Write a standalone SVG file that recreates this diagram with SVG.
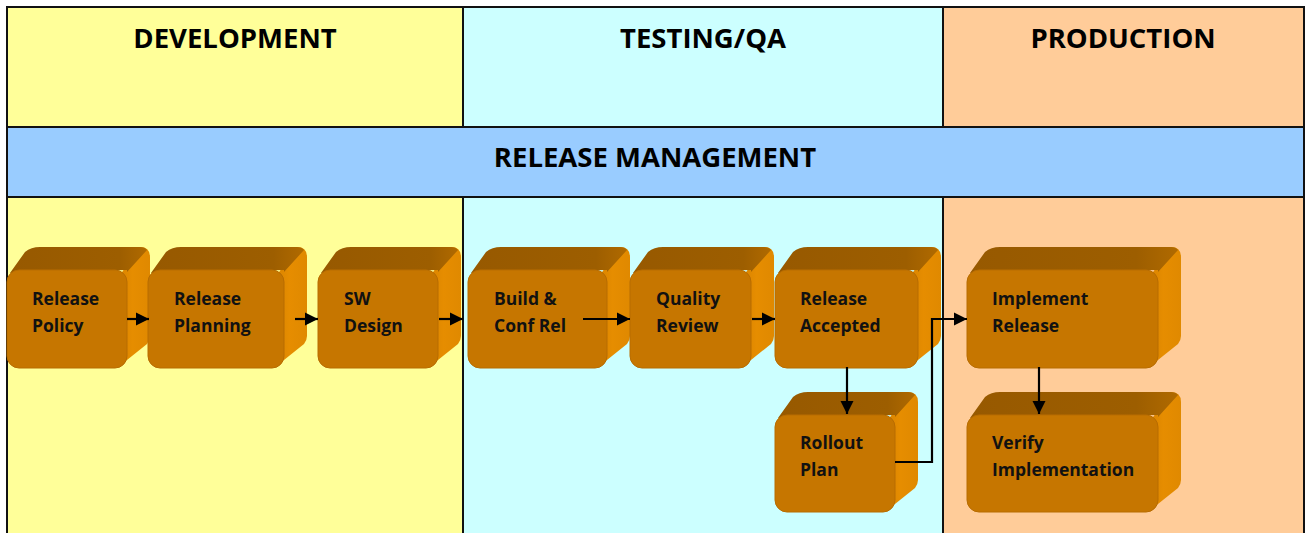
<svg xmlns="http://www.w3.org/2000/svg" width="1308" height="533" viewBox="0 0 1308 533">
  <style>
    .lane { stroke: #111; stroke-width: 2; }
    .hdr { font-family: "Open Sans", Lato, "Liberation Sans", sans-serif; font-weight: bold; font-size: 27.5px; fill: #000; text-anchor: middle; }
    .lbl { font-family: "Open Sans", Lato, "Liberation Sans", sans-serif; font-weight: bold; font-size: 17.5px; fill: #111; }
    .top { fill: url(#topFace); }
    .side { fill: url(#sideFace); }
    .front { fill: #C67600; stroke: #B86C00; stroke-width: 1; }
    .conn { fill: none; stroke: #000; stroke-width: 2.2; }
  </style>
  <defs>
    <linearGradient id="topFace" x1="0" y1="0" x2="1" y2="0">
      <stop offset="0" stop-color="#975900"/>
      <stop offset="0.8" stop-color="#9D5E00"/>
      <stop offset="1" stop-color="#B06A00"/>
    </linearGradient>
    <linearGradient id="sideFace" x1="0" y1="0" x2="1" y2="0">
      <stop offset="0" stop-color="#D68100"/>
      <stop offset="0.5" stop-color="#E68D00"/>
      <stop offset="1" stop-color="#E08900"/>
    </linearGradient>
    <marker id="arrow" viewBox="0 0 10 10" refX="10" refY="5" markerWidth="6" markerHeight="6" markerUnits="strokeWidth" orient="auto">
      <path d="M0,0 L10,5 L0,10 z" fill="#000"/>
    </marker>
  </defs>

  <!-- swimlane backgrounds -->
  <g id="lanes">
    <rect x="7" y="7" width="456" height="526" fill="#FFFF99"/>
    <rect x="463" y="7" width="480" height="526" fill="#CCFFFF"/>
    <rect x="943" y="7" width="361" height="526" fill="#FFCC99"/>
    <rect x="7" y="127" width="1297" height="70" fill="#99CCFF"/>
    <line class="lane" x1="6" y1="7" x2="1305" y2="7"/>
    <line class="lane" x1="7" y1="7" x2="7" y2="533"/>
    <line class="lane" x1="1304" y1="7" x2="1304" y2="533"/>
    <line class="lane" x1="7" y1="127" x2="1304" y2="127"/>
    <line class="lane" x1="7" y1="197" x2="1304" y2="197"/>
    <line class="lane" x1="463" y1="7" x2="463" y2="127"/>
    <line class="lane" x1="943" y1="7" x2="943" y2="127"/>
    <line class="lane" x1="463" y1="197" x2="463" y2="533"/>
    <line class="lane" x1="943" y1="197" x2="943" y2="533"/>
    <text class="hdr" x="235" y="48">DEVELOPMENT</text>
    <text class="hdr" x="703" y="48">TESTING/QA</text>
    <text class="hdr" x="1123" y="48">PRODUCTION</text>
    <text class="hdr" x="655" y="167">RELEASE MANAGEMENT</text>
  </g>

  <!-- process blocks: right face, top face, front face, label -->
  <g id="release-policy">
    <path class="side" d="M140,247 Q150,247 150,257 L150,336 Q150,340 147,344 L127,360 L115,360 L115,282 Z"/>
    <path class="top" d="M10,273 L25,252 Q31,247 40,247 L140,247 Q145,247 147,250 L127,272 L127,270 Z"/>
    <rect class="front" x="7" y="270" width="120" height="98" rx="12"/>
    <text class="lbl" x="32" y="305">Release</text>
    <text class="lbl" x="32" y="332">Policy</text>
  </g>

  <g id="release-planning">
    <path class="side" d="M297,247 Q307,247 307,257 L307,336 Q307,340 304,344 L284,360 L272,360 L272,282 Z"/>
    <path class="top" d="M151,273 L166,252 Q172,247 181,247 L297,247 Q302,247 304,250 L284,272 L284,270 Z"/>
    <rect class="front" x="148" y="270" width="136" height="98" rx="12"/>
    <text class="lbl" x="174" y="305">Release</text>
    <text class="lbl" x="174" y="332">Planning</text>
  </g>

  <g id="sw-design">
    <path class="side" d="M451,247 Q461,247 461,257 L461,336 Q461,340 458,344 L438,360 L426,360 L426,282 Z"/>
    <path class="top" d="M321,273 L336,252 Q342,247 351,247 L451,247 Q456,247 458,250 L438,272 L438,270 Z"/>
    <rect class="front" x="318" y="270" width="120" height="98" rx="12"/>
    <text class="lbl" x="344" y="305">SW</text>
    <text class="lbl" x="344" y="332">Design</text>
  </g>

  <g id="build-conf-rel">
    <path class="side" d="M620,247 Q630,247 630,257 L630,336 Q630,340 627,344 L607,360 L595,360 L595,282 Z"/>
    <path class="top" d="M471,273 L486,252 Q492,247 501,247 L620,247 Q625,247 627,250 L607,272 L607,270 Z"/>
    <rect class="front" x="468" y="270" width="139" height="98" rx="12"/>
    <text class="lbl" x="494" y="305">Build &amp;</text>
    <text class="lbl" x="494" y="332">Conf Rel</text>
  </g>

  <g id="quality-review">
    <path class="side" d="M764,247 Q774,247 774,257 L774,336 Q774,340 771,344 L751,360 L739,360 L739,282 Z"/>
    <path class="top" d="M633,273 L648,252 Q654,247 663,247 L764,247 Q769,247 771,250 L751,272 L751,270 Z"/>
    <rect class="front" x="630" y="270" width="121" height="98" rx="12"/>
    <text class="lbl" x="656" y="305">Quality</text>
    <text class="lbl" x="656" y="332">Review</text>
  </g>

  <g id="release-accepted">
    <path class="side" d="M931,247 Q941,247 941,257 L941,336 Q941,340 938,344 L918,360 L906,360 L906,282 Z"/>
    <path class="top" d="M778,273 L793,252 Q799,247 808,247 L931,247 Q936,247 938,250 L918,272 L918,270 Z"/>
    <rect class="front" x="775" y="270" width="143" height="98" rx="12"/>
    <text class="lbl" x="800" y="305">Release</text>
    <text class="lbl" x="800" y="332">Accepted</text>
  </g>

  <g id="implement-release">
    <path class="side" d="M1171,247 Q1181,247 1181,257 L1181,336 Q1181,340 1178,344 L1158,360 L1146,360 L1146,282 Z"/>
    <path class="top" d="M970,273 L985,252 Q991,247 1000,247 L1171,247 Q1176,247 1178,250 L1158,272 L1158,270 Z"/>
    <rect class="front" x="967" y="270" width="191" height="98" rx="12"/>
    <text class="lbl" x="992" y="305">Implement</text>
    <text class="lbl" x="992" y="332">Release</text>
  </g>

  <g id="rollout-plan">
    <path class="side" d="M908,392 Q918,392 918,402 L918,480 Q918,484 915,488 L895,504 L883,504 L883,427 Z"/>
    <path class="top" d="M778,418 L793,397 Q799,392 808,392 L908,392 Q913,392 915,395 L895,417 L895,415 Z"/>
    <rect class="front" x="775" y="415" width="120" height="97" rx="12"/>
    <text class="lbl" x="800" y="449">Rollout</text>
    <text class="lbl" x="800" y="476">Plan</text>
  </g>

  <g id="verify-implementation">
    <path class="side" d="M1171,392 Q1181,392 1181,402 L1181,480 Q1181,484 1178,488 L1158,504 L1146,504 L1146,427 Z"/>
    <path class="top" d="M970,418 L985,397 Q991,392 1000,392 L1171,392 Q1176,392 1178,395 L1158,417 L1158,415 Z"/>
    <rect class="front" x="967" y="415" width="191" height="97" rx="12"/>
    <text class="lbl" x="992" y="449">Verify</text>
    <text class="lbl" x="992" y="476">Implementation</text>
  </g>

  <!-- connectors -->
  <g id="connectors">
    <path class="conn" marker-end="url(#arrow)" d="M127,319 L149,319"/>
    <path class="conn" marker-end="url(#arrow)" d="M295,319 L318,319"/>
    <path class="conn" marker-end="url(#arrow)" d="M439,319 L463,319"/>
    <path class="conn" marker-end="url(#arrow)" d="M583,319 L630,319"/>
    <path class="conn" marker-end="url(#arrow)" d="M752,319 L775,319"/>
    <path class="conn" marker-end="url(#arrow)" d="M847,367 L847,414"/>
    <path class="conn" marker-end="url(#arrow)" d="M895,462 L932,462 L932,319 L967,319"/>
    <path class="conn" marker-end="url(#arrow)" d="M1039,367 L1039,414"/>
  </g>
</svg>
